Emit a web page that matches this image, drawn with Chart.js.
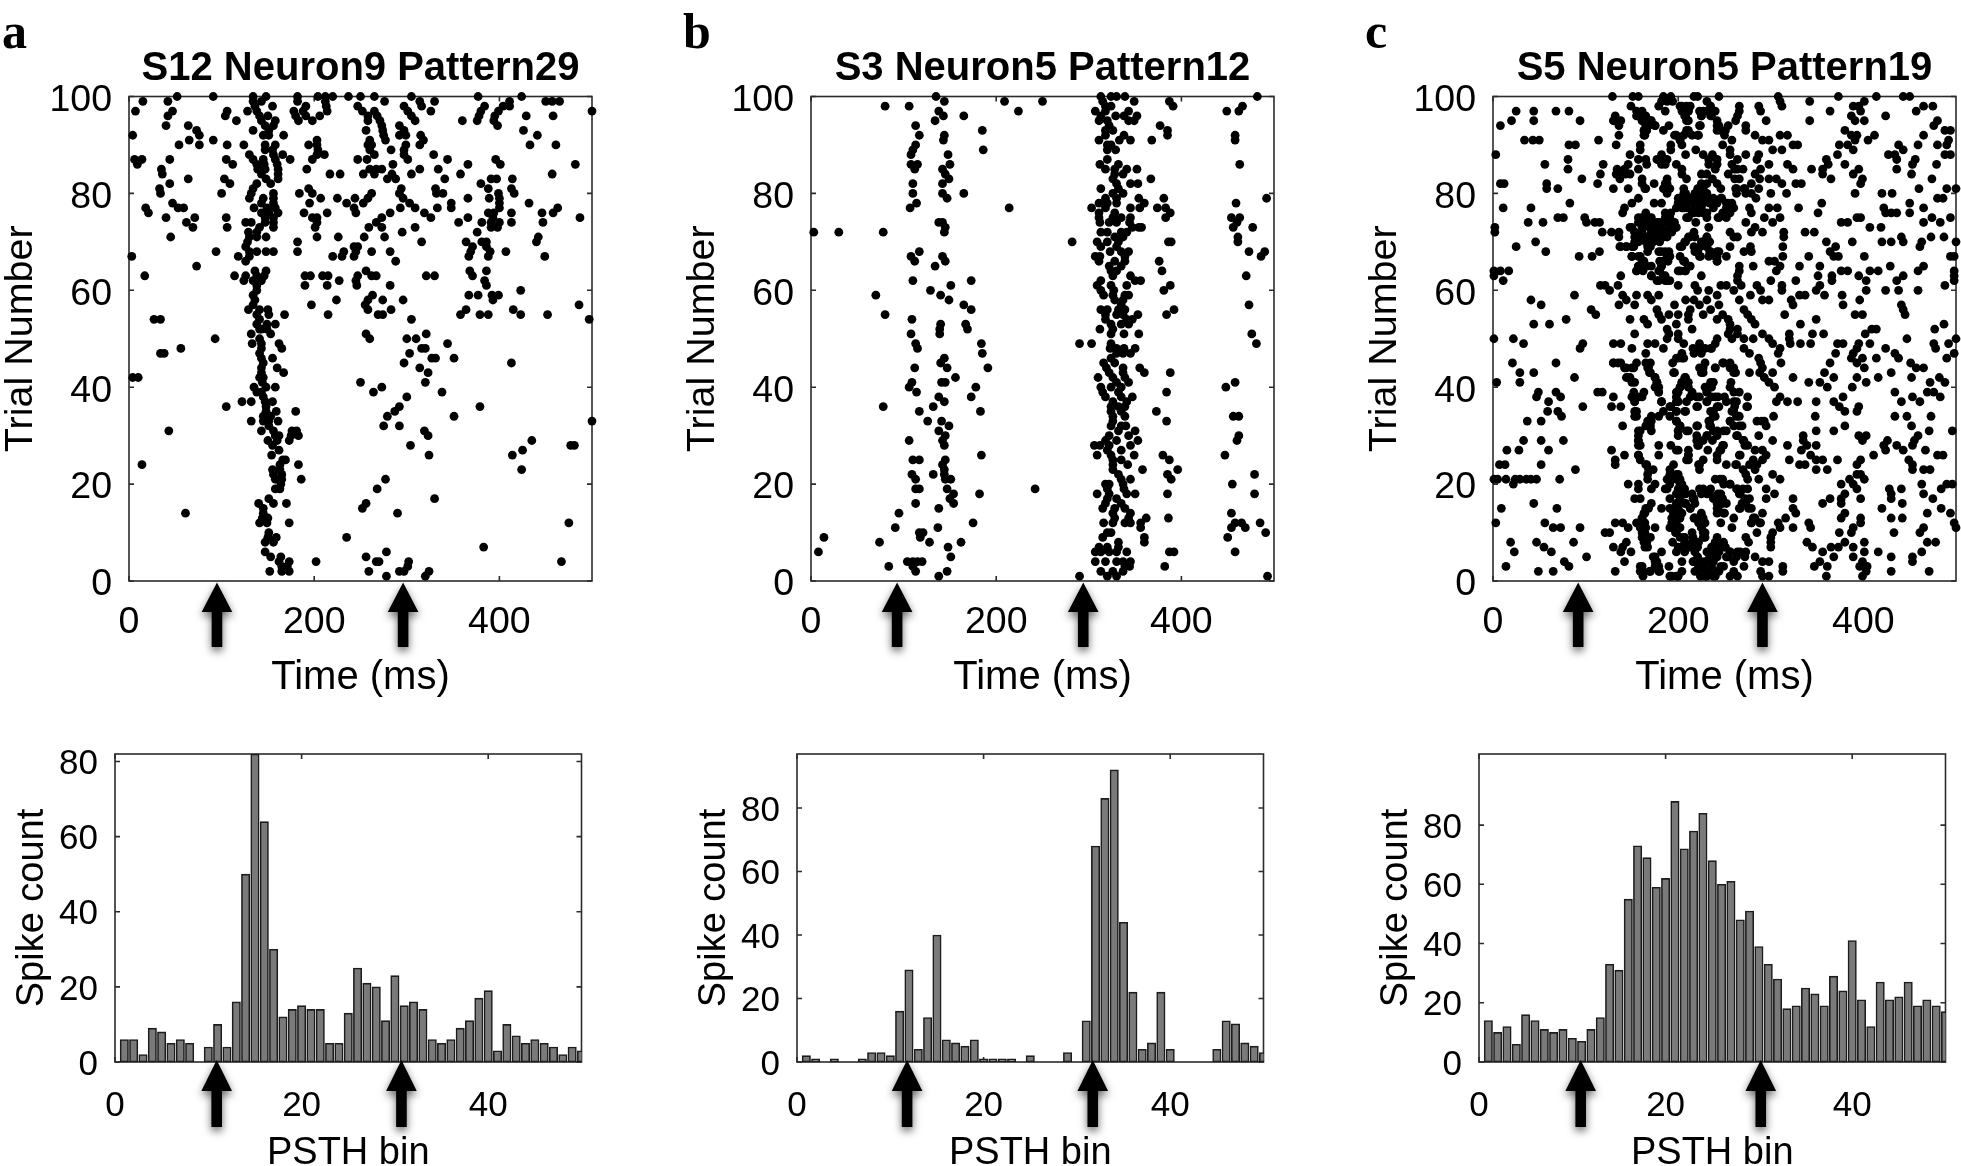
<!DOCTYPE html>
<html>
<head>
<meta charset="utf-8">
<style>
html,body{margin:0;padding:0;background:#fff;width:1961px;height:1166px;overflow:hidden}
canvas{position:absolute;display:block}
.tag{position:absolute;font:bold 50px "Liberation Serif",serif;color:#000;line-height:50px}
</style>
<script src="https://cdn.jsdelivr.net/npm/chart.js@4"></script>
</head>
<body>
<div class="tag" style="left:2px;top:6px">a</div>
<div class="tag" style="left:683px;top:6px">b</div>
<div class="tag" style="left:1365px;top:6px">c</div>
<script>
// Each row: [trial, spike time (ms), spike time (ms), ...]
const spikesA = [
[100,52,91,134,148,182,204,212,220,237,250,265,305,377,424],
[99,15,42,134,143,182,212,276,314,330,411,450,457,465],
[98,136,155,191,213,247,297,316,384,404,411],
[97,7,47,106,128,138,178,188,214,252,265,301,326,380,399,500],
[96,42,104,141,150,180,191,206,258,268,305,378,395,429,458],
[95,116,143,158,183,198,258,271,309,360,376,394],
[94,40,64,147,156,273,292,398],
[93,73,134,151,256,274,297,426],
[92,4,76,145,151,167,275,292,299,315,441],
[91,65,91,203,260,277,318],
[90,54,76,106,124,147,158,194,203,258,262,299,314,433,461],
[89,147,155,204,260,283,297],
[88,130,156,166,203,211,265,297,329],
[87,6,14,44,105,134,145,158,174,198,247,257,301,344,396],
[86,9,112,138,146,160,285,366,401,482],
[85,35,139,147,161,192,260,267,273,314,334],
[84,36,143,161,217,228,253,265,284,305,358,457],
[83,64,103,148,161,279,288,341,391,397,414],
[82,44,109,138,153,380],
[81,33,134,194,294,331,388,413],
[80,34,100,132,156,184,198,262,292,332,339,399,416],
[79,130,145,156,207,225,244,258,296,366,389,400],
[78,47,143,156,195,235,253,303,348,400,432],
[77,18,53,59,135,149,158,243,293,309,333,348,400,463],
[76,21,143,151,161,189,214,245,282,319,388,394,413,446,458],
[75,40,71,105,147,156,198,203,273,326,366,393,487],
[74,62,126,132,147,156,203,267,356,381,391,400,413,447],
[73,69,106,141,156,201,259,273,309,391,398],
[72,129,138,295,376],
[71,45,130,138,148,203,226,254,276,442],
[70,128,182,316,364,381,386,440],
[69,126,243,247,371,386],
[68,94,130,138,148,156,182,232,245,262,282,369,390,407],
[67,3,118,130,220,230,243,367,388,449],
[66,126,288],
[65,73],
[64,136,148,256,368,386],
[63,17,114,126,138,146,190,196,209,215,247,262,267,321,330,371],
[62,124,134,143,227,245,384],
[61,138,190,214,246,282,386],
[60,138,423],
[59,134,263,367,377,392,399],
[58,136,224,258,274,296,393],
[57,134,197,255,486],
[56,129,141,150,258,283,364,415],
[55,138,151,168,215,269,274,358,379,388,423,452],
[54,27,34,141,305,497],
[53,138,149,158],
[52,141,143,149],
[51,132,153,256,321],
[50,93,141,260,300,310],
[49,133,143,162,344],
[48,56,143,165,316,320],
[47,34,38,141,303],
[46,143,155,327,331,351],
[45,145,297,413],
[44,143,160,314],
[43,143,167,323],
[42,4,10,141,145],
[41,144,250,320],
[40,135,148,158,273],
[39,138,143,264,338],
[38,145,300],
[37,122,132,147,155],
[36,105,148,292,379],
[35,148,159,180,287],
[34,145,153,279,351],
[33,132,145,151,161,500],
[32,151,275,292],
[31,43,143,156,176,181,319],
[30,158,162,175,183,323],
[29,150,160,173,435],
[28,155,304,477,481],
[27,162,425],
[26,154,324,414],
[25,166,169],
[24,14,163,183],
[23,155,163,424],
[22,156,165],
[21,158,165,186,277],
[20,164],
[19,158,163,268],
[17,151,330],
[16,140,156,170,256],
[15,145,252],
[14,61,145,290],
[13,144,150],
[12,141,149,173,475],
[10,151],
[9,150,159,235],
[8,147,156],
[7,383],
[6,147,278],
[5,153,164,256],
[4,162,173,202,267,270,302,467],
[3,165,171,301],
[2,152,165,173,259,292,297,324],
[1,278,320]
];
const spikesB = [
[100,135,313,324,330,339,482],
[99,144,209,250,315,349,387],
[98,80,106,318,324,391,466],
[97,138,224,307,318,343,449,462],
[96,143,165,313,329,338,352],
[95,134,311,320,343,349],
[94,113,322,377],
[93,185,318,326,385],
[92,117,144,318,338,385,458],
[91,143,311,333,345,368,458],
[90,113,320,324],
[89,110,186,320,329],
[88,108,148],
[87,320],
[86,108,115,150,312,332,463],
[85,112,142,318,328,341,352],
[84,145,328,337],
[83,149,326,367],
[82,110,142,330,345,353],
[81,313,332],
[80,110,142,165,326,337],
[79,147,318,330,354,381,492],
[78,114,311,320,330,360,459],
[77,107,214,303,318,345,355,374,383],
[76,311,328,388],
[75,311,326,335,345,383,454,463],
[74,138,142,312,322,330,344,460],
[73,145,347,354,357,456,477],
[72,3,30,78,144,313,320,335,341],
[71,328,337,461],
[70,282,309,320,332,386,389,461],
[69,313,330],
[68,117,323,335,343,473,490],
[67,108,142,307,312,339,486],
[66,112,145,311,328,339,376],
[65,134,322,335],
[64,324,330,379],
[63,326,345,470],
[62,110,173,313,350,356],
[61,151,309,324,341,388],
[60,129,313,327,381],
[59,70,140,316,326,339,343],
[58,149,328,337],
[57,165,335,473],
[56,173,313,320,332,339,392],
[55,80,318,330,337,353,384],
[54,109,318,341,347],
[53,140,167,324,335,343],
[52,139,169,312,326],
[51,108,139,324,338,354,476],
[49,113,184,290,303,324,481],
[48,115,323,330,338,350],
[47,185,330,337,345],
[46,144,324],
[45,140,316,328],
[44,112,147,191,319,337,355],
[43,322,337,360,388],
[42,156,310,326,339],
[41,109,141,145,330,343,458],
[40,106,178,313,324,335,448],
[39,114,315,332,384],
[38,138,173,318,335,347],
[37,144,326,341],
[36,78,132,324,332,339],
[35,117,183,324,335,373],
[34,326,339,456,462],
[33,126,141,326,384],
[32,149,324,335,340],
[31,138,332,350],
[30,145,322,343,462],
[29,106,142,318,330,353,460],
[28,144,306,312,322,345],
[27,320,335],
[26,184,309,324,349,380,447],
[25,110,117,145,326,335,387],
[24,142,326,342],
[23,144,326,358,396],
[22,109,132,144,332,385,479],
[21,113,145,151,335,345,389],
[20,318,322,337,455],
[19,113,117,147,242,320,338],
[18,154,182,309,322,341,350,385,479],
[17,150,320,330],
[16,113,154,318,335],
[15,138,315,328,339],
[14,95,326,345,454],
[13,328,343,362,386],
[12,175,316,326,339,345,356,458,465,485],
[11,91,137,356,454,469],
[10,117,121,320,324,491],
[9,14,118,315,360,450],
[8,74,128,162,332,360],
[7,148,311,320,332],
[6,8,307,313,322,330,341,387,392,458],
[5,151],
[4,104,110,115,120,307,318,330,337,345],
[3,84,110,339,344,382],
[2,113,147,313,326,337],
[1,138,290,320,330,493]
];
const spikesC = [
[100,129,151,157,184,192,217,221,244,308,373,414,443,450],
[99,182,188,194,231,310,342,401],
[98,149,179,202,213,235,266,287,312,389,395,465,475],
[97,25,44,68,82,155,161,186,204,211,223,231,240,266,289,364,397,457],
[96,132,157,165,208,225,235,264,387,424],
[95,20,44,94,130,138,161,171,211,242,262,295,342,391,401,480],
[94,8,136,165,175,190,223,244,254,273,476],
[93,163,184,211,246,273,380,488,494],
[92,136,163,196,206,221,250,283,310,318,387,393,412,465],
[91,34,43,50,114,202,258,291,298,391,405,492],
[90,82,89,133,159,192,204,248,324,329,374,383,438,459,480,490],
[89,159,192,219,256,302,312,389,443],
[88,3,148,182,208,227,237,256,273,287,372,427,434,488,494],
[87,81,165,177,188,233,242,264,285,360,436,456],
[86,56,119,146,198,258,298,318,362,380,453,479],
[85,81,134,142,157,204,240,264,289,324,344,356,395,436],
[84,116,133,225,231,254,283,356,389,452],
[83,96,161,188,209,237,266,298,306,365,399,474],
[82,8,12,58,113,174,186,225,242,279,312,327,333,397],
[81,58,70,130,146,165,184,206,221,246,262,271,287,460,490,500],
[80,208,225,273,300,317,391,420,431],
[79,157,200,213,231,246,284,480,486],
[78,83,150,174,182,200,208,219,254,355,450],
[77,11,41,142,206,221,256,277,298,307,330,422,465],
[76,140,165,186,192,217,227,248,279,351,424,430,436,450],
[75,70,76,99,157,171,211,231,244,293,310,393,397,474,494],
[74,38,54,101,110,115,163,177,196,219,273,302,376,383,465,483],
[73,2,148,169,179,198,233,283,407,419],
[72,2,118,128,136,153,184,217,256,279,291,314,337,347],
[71,136,155,165,188,211,231,260,264,314,441,473,487],
[70,46,153,165,208,227,360,388,420,430,443,463,500],
[69,25,138,144,150,167,202,217,231,256,278,313,370,461],
[68,57,115,167,182,190,221,235,244,271,279,364],
[67,93,107,150,159,188,202,223,240,252,313,341,368,373,401,494,498],
[66,163,184,206,242,298,304],
[65,157,171,182,213,266,281,310,331,353,429,465],
[64,1,8,17,155,179,202,208,266,306,376,383,407,416,459,498],
[63,1,138,171,184,225,264,351,366,395,443,498],
[62,11,177,188,264,300,327,366,403,436,498],
[61,116,121,135,200,218,246,252,268,285,312,353,488],
[60,126,221,233,260,289,312,349,403,424,438,459],
[59,88,140,155,167,179,242,278,331,337,358,377],
[58,41,144,171,208,217,231,266,291,298,322,396],
[57,52,136,153,196,223,244,324,378,441],
[56,106,177,213,235,271,443],
[55,111,179,190,200,211,227,248,275,315,391,399,445],
[54,79,148,163,182,211,242,254,279,349],
[53,44,61,167,198,256,283,332,487],
[52,188,215,256,264,409,414,477],
[51,153,190,200,254,264,291,320,345,357,402],
[50,1,22,188,200,242,258,271,281,298,320,447,500],
[49,33,97,130,138,167,175,206,223,240,302,321,332,343,372,378,395,407,476,492],
[48,94,150,184,221,235,271,310,393,424,478],
[47,165,204,217,225,277,308,370,389,434,498],
[46,200,206,287,387,399,414,438,490],
[45,21,68,130,138,155,165,194,229,248,256,289,311,364,393,451],
[44,142,150,167,223,240,260,291,401,457,465],
[43,29,44,169,196,225,262,277,302,358,430],
[42,88,146,175,208,293,324,368,393,416,452,482],
[41,4,29,150,177,204,235,257,298,341,353,403,472,488],
[40,175,202,229,304,361,388],
[39,49,68,113,118,163,179,200,231,260,266,434,469,476],
[38,47,73,130,150,161,213,223,240,250,275,310,378,453,483],
[37,60,153,182,200,231,260,306,318,329,349,368,441,461],
[36,97,128,138,192,221,244,275,374,395],
[35,59,70,155,184,198,208,235,258,380,393],
[34,74,153,171,240,266,303,348,434,447,473],
[33,37,52,167,198,233,256,285,293],
[32,140,165,202,221,235,266,295,380,452],
[31,159,171,200,211,242,252,349,368,471,496],
[30,157,200,231,264,287,335,395,403,459],
[29,33,52,76,157,221,237,271,302,335,399,426,455],
[28,159,179,192,221,248,275,318,339,349,422,436,453],
[27,15,28,60,128,200,232,246,283,291,333,424,443,467],
[26,142,157,179,211,266,295,343,411,480,486],
[25,132,159,211,242,291,320,349,356,372,397,449],
[24,7,13,52,132,165,195,223,252,262,277,331,337,393,453],
[23,89,173,223,283,349,361,453,465,472],
[22,167,192,200,273,302,393,397],
[21,1,5,14,24,29,36,41,47,72,167,188,198,240,248,275,287,310,385,401],
[20,22,146,157,175,202,256,376,389,463,490,496],
[19,157,171,188,223,235,264,275,295,393,428,441,484],
[18,200,208,231,246,266,304,380,430,465],
[17,153,159,217,248,277,295,324,364,376,397,430,475],
[16,44,171,200,208,248,273,356,376,442],
[15,9,69,165,182,196,213,242,266,279,324,420,484],
[14,163,198,225,250,291,327,380,469,494],
[13,161,194,217,225,260,283,316,376,397,430,442],
[12,3,56,132,140,155,194,223,246,279,289,308,341,397,498],
[11,65,73,94,146,165,175,196,225,258,310,324,343,389,465,500],
[10,121,126,161,198,215,229,285,302,374,387,433,461],
[9,206,229,242,273,300],
[8,19,47,87,144,163,194,240,276,300,339,380,401,469,478],
[7,55,130,140,167,200,211,221,250,300,345,365,373,389],
[6,23,63,138,149,182,231,244,256,264,273,356,401,416,463],
[5,101,175,221,237,254,283,368,389,430,453],
[4,77,142,177,204,217,229,260,291,298,353,399,453],
[3,14,82,161,175,190,223,246,271,313,347,361,396,404],
[2,49,65,132,159,169,179,204,231,244,289,313,403,430,471],
[1,162,193,200,229,240,256,264,291,298,360,399]
];
// Further spikes of panel c
const spikesCDense = [
[98,204,209],[97,206,211,227,238],[96,155,161,207,225,236],[95,161,170,209],[94,168,175,224,242],
[93,166,209,242,251],[92,164,198,215,222],[91,202],[87,157,180],[86,166,182,186,233,242],[85,261,270],
[84,135,143,148,204],[83,137,261,288],[82,161,188,231],[81,164,186,191,222,227,263,272],
[80,188,206,218,225,231,263,279],[79,202,207,213,218,225,233,238,247],
[78,200,206,211,220,227,234,242,252,258],[77,198,204,209,218,225,238,252,260],[76,215,222,231,249,256],
[75,161,168,186,191,209,243,252],[74,157,164,173,180,188,195],[73,150,161,170,175,182,191,197],
[72,153,161,171,179,186,193],[71,153,162,170,177,184,213,218,231],[70,157,166,173,180,207,225,234],
[69,137,144,152,170,204,224,231],[68,179,186,218,234,242],[67,150,157,191,224,233,242],
[66,161,180,189,206,207,242],[65,157,166,182,211],[64,155,162,180,200,207],[63,171,186],[62,179,186,191],
[48,216,222,229,236],[46,198,204],[45,130,135,170,249],[44,144,152,168,227,240,256],[43,170,195,227,260,288],
[42,144,148,175,207],[41,153,177,204,211,238],[40,179,202,211,236,256],[39,152,179,198,215,231],
[38,157,198,220,236,243],[37,153,182,198,209,231,252,263],[36,191,220,242,261,274],[35,153,198,207,238,260],
[34,155,179,191,238,263],[33,171,198,234,256,290],[32,170,202,220,234,260,269],[31,157,200,209,238,249],
[30,220,231,242,263],[29,157,220,227,270],[28,157,222,249,272],[27,198,211,245],[26,157,211,242,267],
[25,209,227,281],[24,166,222,263,285],[23,168,191,270],[22,191,198],[21,189,202,245],[20,191,204,249,256],
[19,186,200,207,227,263,270],[18,198,207,215,225,234,243,267],[17,191,202,216,238,247,272],
[16,198,207,218,242,252,269],[15,168,191,200,213,243,267,276],[14,164,195,204,242,249],
[13,161,193,202,218,227,281],[12,164,193,198,222,229,279,288],[11,159,191,202,225],[10,164,197,227],
[9,161,170,202,207,216,227],[8,166,207,215,222,240,249],[7,164,204,213,220,236,243,251],
[6,198,207,218,236,243,256,267],[5,173,234,242,252,263,272],[4,175,216,225,231,238],
[3,159,179,222,227,236,249],[2,161,170,180,218,225,233,242,260],[1,191,198,224,231,238]
];
const binsA = [1,2,3,4,5,6,7,8,9,10,11,12,13,14,15,16,17,18,19,20,21,22,23,24,25,26,27,28,29,30,31,32,33,34,35,36,37,38,39,40,41,42,43,44,45,46,47,48,49,50];
const countsA = [6,6,2,9,8,5,6,5,0,4,10,4,16,50,82,64,30,12,14,15,14,14,5,5,13,25,21,20,11,23,15,16,14,6,5,6,9,11,17,19,3,10,7,5,6,5,4,2,4,3];
const countsB = [2,1,0,1,0,0,1,3,3,2,16,29,4,14,40,7,6,5,7,1,1,1,1,0,2,0,0,0,3,0,13,68,83,92,44,22,4,6,22,4,0,0,0,0,4,13,12,6,5,3];
const countsC = [14,10,12,6,16,14,11,10,11,8,7,11,15,33,31,55,73,69,59,62,88,72,78,84,68,60,61,48,51,39,33,28,18,19,25,23,19,29,24,41,21,12,27,21,22,27,19,21,19,17];
const titles = ["S12 Neuron9 Pattern29","S3 Neuron5 Pattern12","S5 Neuron5 Pattern19"];
const timeTicks = [0,200,400];
const trialTicks = [0,20,40,60,80,100];
const binTicks = [0,20,40];
const countTicks = [0,20,40,60,80];
const arrowTimes = [[95,296],[93,294],[92,291]];
const arrowBins = [[10.9,30.7],[11.8,31.7],[10.9,30.2]];
const countMax = [82,97,104];

const FONT = '"Liberation Sans", Arial, sans-serif';
const frame = {
  id:'frame',
  beforeDatasetsDraw(chart){
    const {ctx,chartArea:a,scales:{x,y}} = chart, L = 5;
    ctx.save();
    ctx.strokeStyle='#2b2b2b'; ctx.lineWidth=1.6;
    ctx.strokeRect(a.left,a.top,a.right-a.left,a.bottom-a.top);
    ctx.beginPath();
    x.ticks.forEach(t=>{const p=x.getPixelForValue(t.value);
      ctx.moveTo(p,a.bottom);ctx.lineTo(p,a.bottom-L);ctx.moveTo(p,a.top);ctx.lineTo(p,a.top+L);});
    y.ticks.forEach(t=>{const p=y.getPixelForValue(t.value);
      ctx.moveTo(a.left,p);ctx.lineTo(a.left+L,p);ctx.moveTo(a.right,p);ctx.lineTo(a.right-L,p);});
    ctx.stroke(); ctx.restore();
  }
};
const arrows = {
  id:'arrows',
  afterDraw(chart,args,o){
    const {ctx,chartArea:a,scales:{x}} = chart;
    ctx.save();
    ctx.fillStyle='#000';
    ctx.shadowColor='rgba(0,0,0,.6)'; ctx.shadowBlur=9; ctx.shadowOffsetY=4;
    o.at.forEach(v=>{
      const p=x.getPixelForValue(v), t=a.bottom+o.tip, b=a.bottom+o.base, e=a.bottom+o.end;
      ctx.beginPath();
      ctx.moveTo(p,t);ctx.lineTo(p+15.3,b);ctx.lineTo(p+5.3,b);ctx.lineTo(p+5.3,e);
      ctx.lineTo(p-5.3,e);ctx.lineTo(p-5.3,b);ctx.lineTo(p-15.3,b);ctx.closePath();ctx.fill();
    });
    ctx.restore();
  }
};
function addCanvas(left,top,w,h){
  const c=document.createElement('canvas');
  c.width=w;c.height=h;c.style.left=left+'px';c.style.top=top+'px';
  c.style.width=w+'px';c.style.height=h+'px';
  document.body.appendChild(c);return c;
}
function axis(o){
  return {
    type:'linear',min:o.min,max:o.max,offset:false,
    grid:{display:false,drawTicks:false},border:{display:false},
    afterBuildTicks(s){s.ticks=o.ticks.filter(v=>v<=o.max).map(v=>({value:v}));},
    ticks:{autoSkip:false,maxRotation:0,minRotation:0,color:'#000',padding:o.pad,labelOffset:o.lo||0,
      font:{family:FONT,size:o.tick,lineHeight:1}},
    title:{display:true,text:o.text,color:'#000',padding:o.tp,
      font:{family:FONT,size:o.ts,lineHeight:1}},
    afterFit(s){ if(o.w!==undefined) s.width=o.w; if(o.h!==undefined) s.height=o.h; }
  };
}
function raster(left,spikes,title,arrowAt){
  const pts=[];
  spikes.forEach(r=>{for(let i=1;i<r.length;i++) pts.push({x:r[i],y:r[0]});});
  new Chart(addCanvas(left,0,640,740),{
    type:'scatter',
    data:{datasets:[{data:pts,backgroundColor:'#000',borderWidth:0,pointRadius:4.4,pointHoverRadius:4.4,clip:false}]},
    plugins:[frame,arrows],
    options:{
      responsive:false,animation:false,devicePixelRatio:1,
      layout:{autoPadding:false,padding:{left:0,right:48,top:0,bottom:0}},
      scales:{
        x:axis({min:0,max:500,ticks:timeTicks,pad:23,tick:37.5,text:'Time (ms)',ts:40,tp:{top:0,bottom:42.5},h:159}),
        y:axis({min:0,max:100,ticks:trialTicks,pad:17,lo:4,tick:37.5,text:'Trial Number',ts:39.5,tp:{top:1,bottom:0},w:129})
      },
      plugins:{
        legend:{display:false},tooltip:{enabled:false},
        title:{display:true,text:title,color:'#000',fullSize:false,
          font:{family:FONT,size:40,weight:'bold',lineHeight:1},padding:{top:48.5,bottom:8}},
        arrows:{at:arrowAt,tip:1.5,base:31,end:66}
      }
    }
  });
}
function hist(left,counts,ymax,arrowAt){
  new Chart(addCanvas(left,700,640,500),{
    type:'bar',
    data:{datasets:[{data:binsA.map((b,i)=>({x:b,y:counts[i]})),backgroundColor:'#7a7a7a',
      borderColor:'#1c1c1c',borderWidth:1.6,borderSkipped:false,barThickness:8.4}]},
    plugins:[frame,arrows],
    options:{
      responsive:false,animation:false,devicePixelRatio:1,
      layout:{autoPadding:false,padding:{left:0,right:58.5,top:54,bottom:0}},
      scales:{
        x:axis({min:0,max:50,ticks:binTicks,pad:27,tick:35,text:'PSTH bin',ts:38,tp:{top:0,bottom:27},h:138}),
        y:axis({min:0,max:ymax,ticks:countTicks,pad:17,lo:3,tick:35,text:'Spike count',ts:38,tp:{top:14,bottom:0},w:115})
      },
      plugins:{legend:{display:false},tooltip:{enabled:false},title:{display:false},
        arrows:{at:arrowAt,tip:-2,base:29,end:65}}
    }
  });
}
raster(0,spikesA,titles[0],arrowTimes[0]);
raster(682,spikesB,titles[1],arrowTimes[1]);
raster(1364,spikesC.concat(spikesCDense),titles[2],arrowTimes[2]);
hist(0,countsA,countMax[0],arrowBins[0]);
hist(682,countsB,countMax[1],arrowBins[1]);
hist(1364,countsC,countMax[2],arrowBins[2]);
</script>
</body>
</html>
